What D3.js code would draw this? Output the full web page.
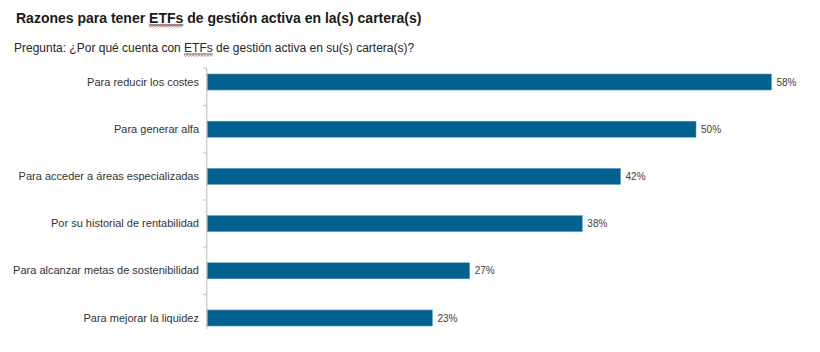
<!DOCTYPE html>
<html>
<head>
<meta charset="utf-8">
<script src="https://cdn.jsdelivr.net/npm/d3@7"></script>
<style>
  body { margin: 0; background: #fff; }
  text { font-family: "Liberation Sans", Arial, sans-serif; }
</style>
</head>
<body>
<svg id="chart"></svg>
<script>
// data (labels are rounded to whole percent)
const categories = [
  "Para reducir los costes",
  "Para generar alfa",
  "Para acceder a áreas especializadas",
  "Por su historial de rentabilidad",
  "Para alcanzar metas de sostenibilidad",
  "Para mejorar la liquidez"
];
const values = [57.6, 49.9, 42.2, 38.3, 26.8, 23.0];

const titleText = ["Razones para tener ", "ETFs", " de gestión activa en la(s) cartera(s)"];
const subtitleText = ["Pregunta: ¿Por qué cuenta con ", "ETFs", " de gestión activa en su(s) cartera(s)?"];

const data = categories.map((c, i) => ({ cat: c, value: values[i] }));

const width = 820, height = 352;
const svg = d3.select("#chart")
    .attr("width", width)
    .attr("height", height);

// scales
const x = d3.scaleLinear()
    .domain([0, 60])
    .range([207, 795]);

const y = d3.scaleBand()
    .domain(categories)
    .range([58.4, 341.6])
    .paddingInner(0.66)
    .paddingOuter(0.33);

// title + subtitle, with the spell-check underline under "ETFs"
function headline(parts, yPos, size, weight) {
  const t = svg.append("text")
      .attr("x", weight === "bold" ? 16 : 14)
      .attr("y", yPos)
      .attr("font-size", size)
      .attr("font-weight", weight)
      .attr("fill", weight === "bold" ? "#1a1a1a" : "#262626");
  const spans = parts.map(p => t.append("tspan").text(p));
  // underline the ETFs word
  const node = spans[1].node();
  const start = node.getStartPositionOfChar(0).x;
  const end = node.getEndPositionOfChar(parts[1].length - 1).x;
  svg.append("line")
      .attr("x1", start).attr("x2", end)
      .attr("y1", yPos + 2).attr("y2", yPos + 2)
      .attr("stroke", weight === "bold" ? "#1a1a1a" : "#555")
      .attr("stroke-width", 1);
  // red squiggle
  const pts = d3.range(start, end, 1.5).map((px, i) => [px, yPos + 3.5 + (i % 2 ? 0.8 : -0.2)]);
  svg.append("path")
      .attr("d", d3.line()(pts))
      .attr("fill", "none")
      .attr("stroke", "#e06060")
      .attr("stroke-width", 0.8);
}
headline(titleText, 23, 14, "bold");
headline(subtitleText, 52, 12, "normal");

// category axis
const yAxis = d3.axisLeft(y).tickSize(0).tickPadding(8);
const axisG = svg.append("g")
    .attr("transform", `translate(${x(0)},0)`)
    .call(yAxis);
axisG.select(".domain").remove();
axisG.selectAll("text")
    .attr("font-size", 11)
    .attr("fill", "#333")
    .attr("font-family", "Liberation Sans, Arial, sans-serif");

// axis line (slightly shorter than the band range, as in the original)
const axisTop = y(categories[0]) + y.bandwidth() / 2 - 14;
const axisBottom = y(categories[categories.length - 1]) + y.bandwidth() + 3;
svg.append("line")
    .attr("x1", x(0) - 0.3).attr("x2", x(0) - 0.3)
    .attr("y1", axisTop).attr("y2", axisBottom)
    .attr("stroke", "#c4c4c4")
    .attr("stroke-width", 1.2);

// tick marks at the band boundaries
const tickYs = [axisTop].concat(categories.slice(1).map(c => y(c) - y.step() * y.paddingInner() / 2));
svg.selectAll(".tick-mark")
    .data(tickYs)
    .join("line")
    .attr("class", "tick-mark")
    .attr("x1", x(0) - 4).attr("x2", x(0))
    .attr("y1", d => d).attr("y2", d => d)
    .attr("stroke", "#c4c4c4")
    .attr("stroke-width", 1);

// bars
svg.selectAll(".bar")
    .data(data)
    .join("rect")
    .attr("class", "bar")
    .attr("x", x(0) + 0.5)
    .attr("y", d => y(d.cat))
    .attr("width", d => x(d.value) - x(0) - 0.5)
    .attr("height", y.bandwidth())
    .attr("fill", "#03628f")
    .attr("stroke", "#5d9bc0")
    .attr("stroke-width", 0.5);

// value labels
svg.selectAll(".val")
    .data(data)
    .join("text")
    .attr("class", "val")
    .attr("x", d => x(d.value) + 5)
    .attr("y", d => y(d.cat) + y.bandwidth() / 2)
    .attr("dy", "0.35em")
    .attr("font-size", 10)
    .attr("fill", "#404040")
    .text(d => Math.round(d.value) + "%");
</script>
</body>
</html>
